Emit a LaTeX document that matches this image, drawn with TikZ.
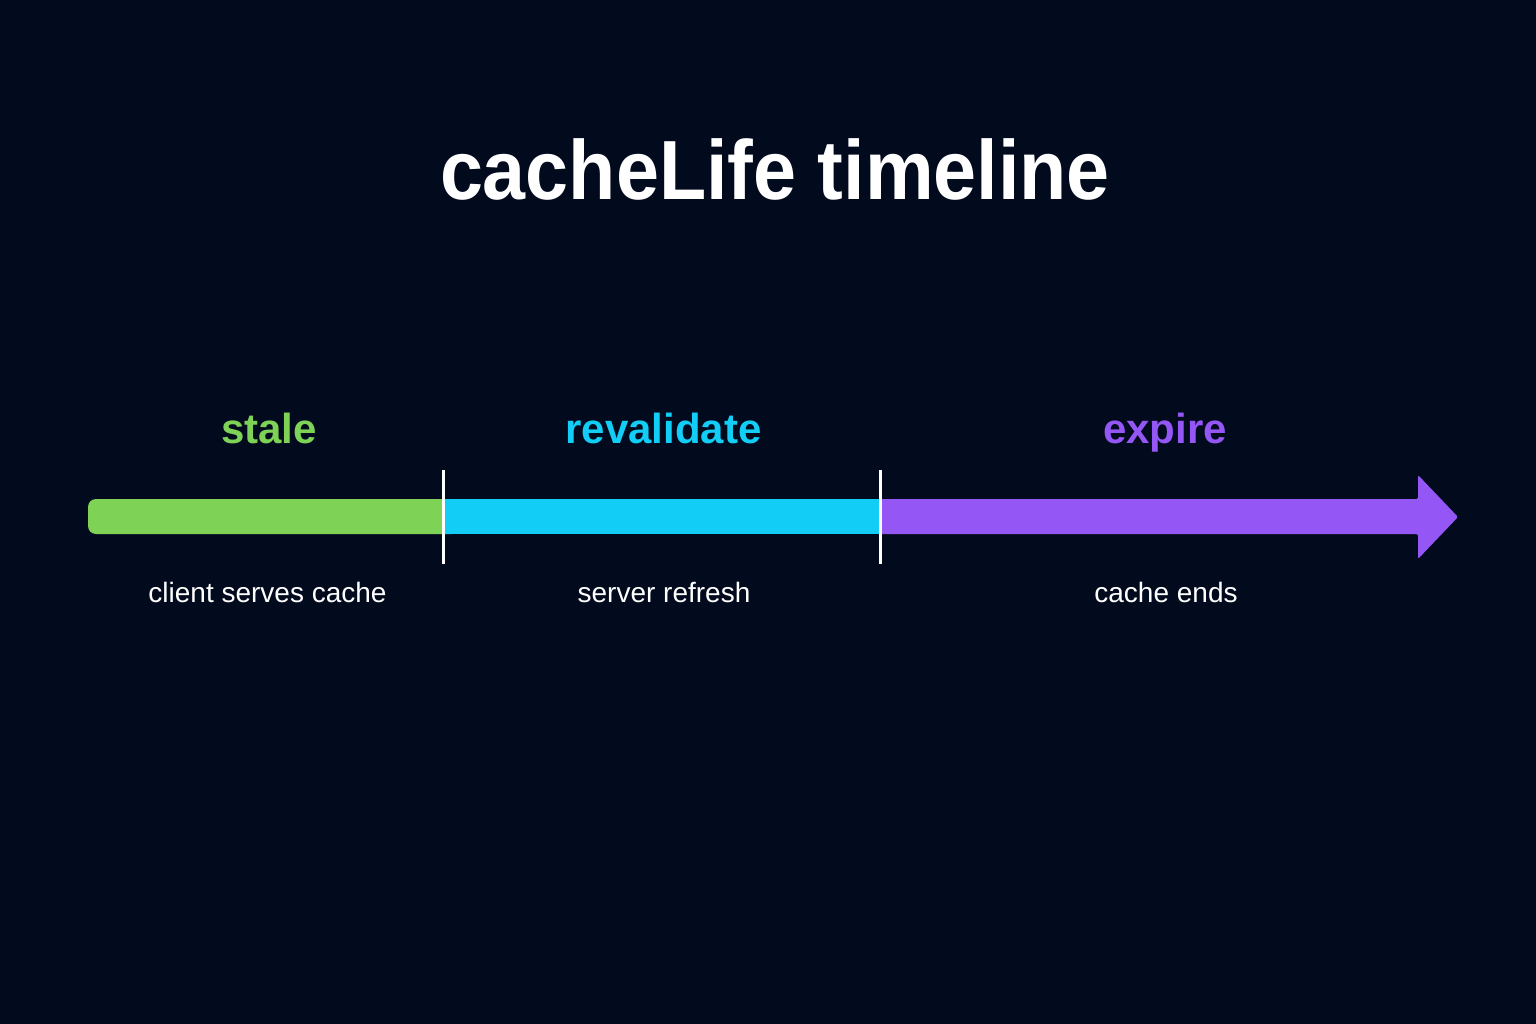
\documentclass[tikz,border=0pt]{standalone}
\usepackage{fontspec}
\setmainfont{Liberation Sans}
\newfontfamily\titlefont{Liberation Sans}[FakeStretch=0.92]
\definecolor{bgc}{RGB}{2,10,30}
\definecolor{gstale}{RGB}{126,211,86}
\definecolor{crev}{RGB}{18,205,245}
\definecolor{pexp}{RGB}{148,86,245}
\tikzset{
  phase/.style={font=\fontsize{42}{48}\selectfont\bfseries, anchor=base, inner sep=0pt},
  note/.style={font=\fontsize{28}{32}\selectfont, text=white, anchor=base, inner sep=0pt},
  divider/.style={draw=white, line width=3pt},
}
\begin{document}
\begin{tikzpicture}[x=1pt,y=-1pt]
\fill[bgc] (0,0) rectangle (1536,1024);
\useasboundingbox (0,0) rectangle (1536,1024);

\node[anchor=base, inner sep=0pt, text=white, font=\titlefont\fontsize{84}{90}\selectfont\bfseries] (title) at (775,200) {cacheLife timeline};

% bar segments
\fill[gstale, rounded corners=8pt] (88,499) rectangle (460,534);
\fill[crev] (443,499) rectangle (880,534);
\fill[pexp, rounded corners=1.5pt] (880,499) -- (1418,499) -- (1418,475) -- (1458,517) -- (1418,559) -- (1418,534) -- (880,534) [sharp corners] -- cycle;

% dividers
\coordinate (d1t) at (443,470);
\coordinate (d1b) at (443,564);
\coordinate (d2t) at (880,470);
\coordinate (d2b) at (880,564);
\draw[divider] (d1t) -- (d1b);
\draw[divider] (d2t) -- (d2b);

% phase labels
\node[phase, text=gstale] (stale) at (269,443) {stale};
\node[phase, text=crev] (reval) at (663.5,443) {revalidate};
\node[phase, text=pexp] (expire) at (1165,443) {expire};

% notes
\node[note] (n1) at (267.5,602) {client serves cache};
\node[note] (n2) at (664,602) {server refresh};
\node[note] (n3) at (1166,602) {cache ends};
\end{tikzpicture}
\end{document}
